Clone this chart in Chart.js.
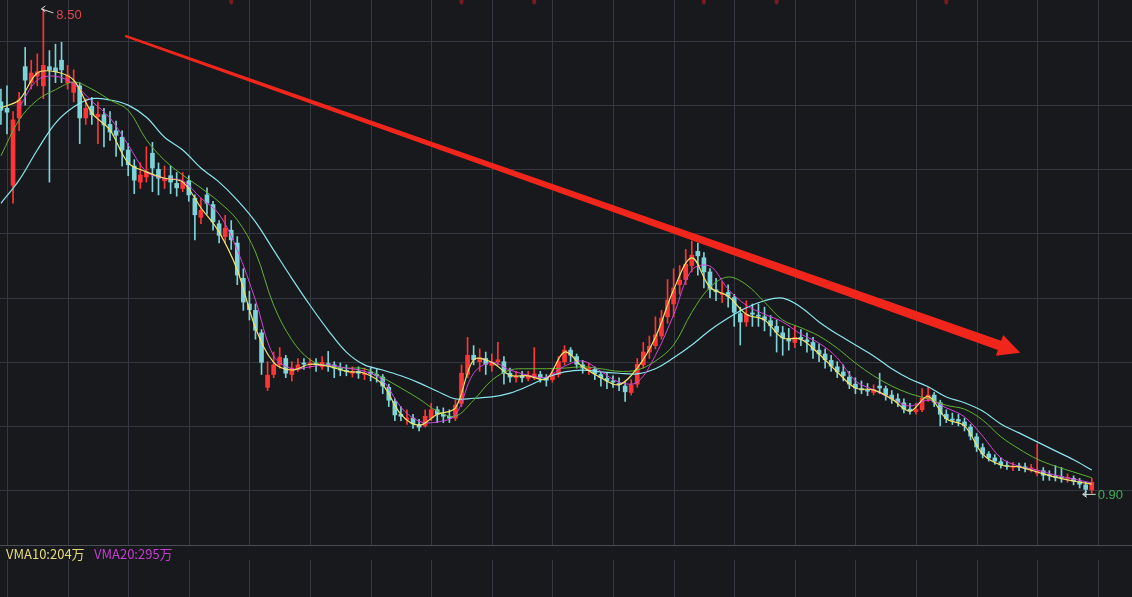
<!DOCTYPE html>
<html>
<head>
<meta charset="utf-8">
<script src="https://cdn.jsdelivr.net/npm/chart.js@4.4.1/dist/chart.umd.min.js"></script>
<style>
html, body { margin: 0; padding: 0; background: #17191d; }
#wrap { position: relative; width: 1132px; height: 597px; overflow: hidden; background: #17191d; }
#price { position: absolute; left: 0; top: 0; }
#vol { position: absolute; left: 0; top: 545px; }
.vma { position: absolute; top: 545px; font: 13px "Noto Sans CJK SC", sans-serif; line-height: 17px; white-space: nowrap; }
</style>
</head>
<body>
<div id="wrap">
  <canvas id="price" width="1132" height="545"></canvas>
  <canvas id="vol" width="1132" height="52"></canvas>
  <div class="vma" id="vma10" style="left:6px;color:#e6dc7a"></div>
  <div class="vma" id="vma20" style="left:94px;color:#c43ed0"></div>
</div>
<script>
// daily candles, first one sits at day -1 on the x axis
const firstDay = -1;
const opens = [7.05,6.95,5.75,6.80,7.60,7.35,7.45,7.30,7.60,7.58,7.70,
  7.35,7.20,7.30,6.80,6.98,6.82,6.85,6.70,6.60,6.50,
  6.30,6.05,5.80,5.88,6.25,6.00,5.82,5.90,5.78,5.70,
  5.82,5.55,5.25,5.60,5.45,5.15,4.95,5.05,4.85,4.30,
  3.90,3.80,3.45,2.60,2.80,2.95,3.05,2.80,2.88,2.98,
  2.95,2.98,2.92,2.97,2.95,2.90,2.86,2.82,2.85,2.80,
  2.84,2.80,2.76,2.60,2.38,2.18,2.10,2.12,2.02,2.00,
  2.12,2.25,2.18,2.15,2.12,2.35,2.80,3.10,3.00,3.05,
  2.94,3.00,3.00,2.82,2.75,2.78,2.74,2.76,2.80,2.75,
  2.72,2.80,3.00,3.18,3.08,2.95,2.88,2.88,2.80,2.74,
  2.70,2.66,2.62,2.52,2.65,2.95,3.15,3.25,3.40,3.70,
  3.90,4.20,4.28,4.50,4.72,4.62,4.40,4.12,4.05,4.08,
  4.00,3.75,3.62,3.76,3.72,3.70,3.64,3.55,3.45,3.36,
  3.30,3.38,3.34,3.30,3.18,3.12,3.02,2.92,2.84,2.76,
  2.65,2.58,2.55,2.52,2.62,2.58,2.48,2.42,2.36,2.26,
  2.22,2.25,2.42,2.48,2.36,2.18,2.10,2.10,2.06,1.98,
  1.83,1.66,1.56,1.50,1.44,1.38,1.35,1.37,1.36,1.33,
  1.26,1.30,1.24,1.22,1.20,1.18,1.18,1.13,1.08,1.00];
const closes = [6.92,6.89,6.77,7.08,7.39,7.50,7.52,7.62,7.55,7.52,7.55,
  7.47,7.36,6.80,6.95,6.85,6.86,6.69,6.58,6.53,6.30,
  6.07,5.83,5.91,5.96,6.02,5.86,5.86,5.80,5.71,5.80,
  5.60,5.29,5.36,5.47,5.18,4.97,5.08,4.90,4.35,3.93,
  3.81,3.49,2.99,2.79,2.95,3.07,2.82,2.90,2.95,2.96,
  2.98,2.95,2.99,2.93,2.90,2.87,2.85,2.84,2.82,2.82,
  2.81,2.78,2.62,2.40,2.17,2.15,2.12,2.03,1.98,2.15,
  2.25,2.18,2.15,2.12,2.32,2.82,3.10,3.03,3.06,2.96,
  2.98,3.03,2.82,2.76,2.76,2.75,2.78,2.81,2.75,2.71,
  2.81,3.00,3.18,3.10,2.96,2.90,2.89,2.81,2.75,2.70,
  2.68,2.64,2.53,2.64,2.96,3.15,3.24,3.42,3.68,3.96,
  4.15,4.27,4.52,4.66,4.65,4.40,4.13,4.09,4.07,4.02,
  3.77,3.62,3.74,3.74,3.71,3.65,3.56,3.46,3.37,3.32,
  3.38,3.35,3.31,3.18,3.12,3.03,2.93,2.84,2.78,2.65,
  2.59,2.56,2.54,2.56,2.59,2.48,2.42,2.37,2.26,2.23,
  2.25,2.43,2.48,2.37,2.18,2.11,2.09,2.07,2.00,1.84,
  1.67,1.56,1.50,1.45,1.39,1.37,1.36,1.36,1.34,1.34,
  1.30,1.23,1.22,1.20,1.19,1.19,1.14,1.09,1.01,1.12];
const highs = [7.25,7.30,6.90,7.20,7.90,7.70,7.80,8.50,7.85,7.95,7.98,
  7.62,7.55,7.35,7.10,7.12,7.05,6.95,6.90,6.75,6.60,
  6.40,6.15,6.10,6.35,6.42,6.10,6.05,6.05,5.95,5.95,
  5.90,5.60,5.55,5.71,5.50,5.20,5.28,5.20,4.95,4.45,
  4.10,3.90,3.50,3.00,3.15,3.22,3.10,3.00,3.05,3.05,
  3.05,3.05,3.08,3.16,3.00,2.98,2.95,2.92,2.92,2.90,
  2.90,2.88,2.80,2.65,2.42,2.30,2.25,2.18,2.10,2.25,
  2.35,2.30,2.28,2.25,2.40,2.95,3.38,3.25,3.20,3.15,
  3.12,3.30,3.08,2.90,2.85,2.85,2.85,3.22,2.85,2.80,
  2.88,3.08,3.25,3.22,3.12,3.02,2.98,2.92,2.85,2.82,
  2.78,2.75,2.68,2.72,3.05,3.30,3.40,3.70,3.80,4.28,
  4.45,4.50,4.75,4.88,4.85,4.70,4.45,4.30,4.25,4.20,
  4.05,3.85,3.95,3.90,3.90,3.85,3.72,3.65,3.55,3.52,
  3.55,3.50,3.45,3.38,3.28,3.20,3.10,3.00,2.95,2.85,
  2.75,2.70,2.66,2.64,2.82,2.62,2.55,2.50,2.42,2.35,
  2.35,2.58,2.60,2.52,2.40,2.25,2.20,2.18,2.12,2.02,
  1.88,1.72,1.60,1.55,1.50,1.45,1.43,1.42,1.42,1.40,
  1.72,1.35,1.30,1.38,1.35,1.25,1.22,1.18,1.12,1.18];
const lows = [6.70,6.55,5.47,6.60,7.00,7.25,7.30,7.10,5.80,7.35,7.35,
  7.25,7.05,6.40,6.70,6.70,6.40,6.35,6.45,6.20,6.05,
  5.90,5.62,5.70,5.80,5.65,5.60,5.70,5.62,5.58,5.65,
  5.50,4.90,5.15,5.30,5.05,4.85,4.85,4.75,4.20,3.80,
  3.65,3.35,2.80,2.55,2.75,2.90,2.75,2.70,2.85,2.88,
  2.90,2.85,2.88,2.85,2.75,2.78,2.78,2.76,2.74,2.72,
  2.70,2.68,2.50,2.30,2.08,2.08,2.02,1.96,1.92,1.98,
  2.08,2.05,2.05,2.05,2.08,2.30,2.75,2.95,2.85,2.80,
  2.85,2.95,2.65,2.68,2.68,2.68,2.70,2.72,2.68,2.62,
  2.68,2.76,2.95,3.00,2.90,2.82,2.80,2.72,2.62,2.58,
  2.60,2.55,2.38,2.48,2.60,2.90,3.05,3.20,3.35,3.60,
  3.70,4.05,4.20,4.40,4.35,4.15,4.00,3.95,3.92,3.85,
  3.55,3.26,3.55,3.55,3.55,3.48,3.40,3.15,3.10,3.18,
  3.22,3.25,3.15,3.05,3.00,2.90,2.85,2.75,2.70,2.58,
  2.50,2.50,2.47,2.48,2.50,2.40,2.35,2.30,2.20,2.18,
  2.18,2.22,2.38,2.30,2.00,2.05,2.02,2.00,1.92,1.78,
  1.60,1.50,1.45,1.40,1.34,1.32,1.30,1.30,1.28,1.28,
  1.22,1.15,1.15,1.14,1.12,1.12,1.08,1.03,0.90,0.95];

// moving averages, one reading every 3 days starting at firstDay
const maStep = 3;
const maYellow = [6.96,7.08,7.50,7.52,7.39,6.88,6.61,6.10,5.96,5.86,
  5.80,5.40,5.02,4.43,3.53,2.99,2.87,2.96,2.93,2.85,
  2.82,2.64,2.18,2.01,2.18,2.28,3.03,2.99,2.79,2.78,
  2.73,3.15,2.92,2.75,2.64,2.90,3.38,4.12,4.62,4.16,
  4.02,3.74,3.65,3.37,3.35,3.12,2.84,2.59,2.56,2.42,
  2.23,2.46,2.11,2.00,1.56,1.39,1.36,1.28,1.20,1.14,1.09];
const maPurple = [null,6.96,7.39,7.45,7.33,7.06,6.80,6.38,5.96,5.86,
  5.82,5.55,5.30,4.74,3.96,3.09,2.89,2.92,2.95,2.90,
  2.85,2.71,2.29,2.07,2.06,2.17,2.82,2.99,2.87,2.79,
  2.76,2.93,3.01,2.85,2.68,2.68,3.10,3.73,4.43,4.49,
  4.13,3.88,3.74,3.62,3.43,3.29,3.06,2.70,2.56,2.42,
  2.31,2.40,2.28,2.14,1.84,1.50,1.37,1.31,1.23,1.17,1.11];
const maGreen = [6.21,6.77,7.08,7.24,7.36,7.25,7.08,6.92,6.46,6.14,
  5.91,5.71,5.49,5.21,4.71,3.88,3.34,3.03,2.93,2.90,
  2.89,2.75,2.59,2.42,2.23,2.15,2.40,2.71,2.87,2.89,
  2.89,2.90,2.92,2.89,2.85,2.87,3.01,3.26,3.77,4.16,
  4.32,4.20,3.93,3.65,3.53,3.40,3.21,2.98,2.78,2.62,
  2.50,2.42,2.32,2.26,2.09,1.83,1.64,1.48,1.37,1.28,1.19];
const maCyan = [5.47,5.83,6.30,6.72,6.97,7.10,7.08,7.00,6.81,6.50,
  6.30,6.02,5.80,5.52,5.18,4.74,4.30,3.88,3.49,3.15,
  2.95,2.87,2.78,2.67,2.54,2.42,2.43,2.45,2.51,2.62,
  2.75,2.84,2.87,2.84,2.82,2.81,2.89,3.06,3.26,3.49,
  3.68,3.84,3.95,3.99,3.85,3.62,3.43,3.26,3.09,2.89,
  2.73,2.61,2.45,2.36,2.23,2.03,1.89,1.75,1.61,1.47,1.31];

const gridPrices = [1, 2, 3, 4, 5, 6, 7, 8];
const gridDays = [0, 10, 20, 30, 40, 50, 60, 70, 80, 90, 100, 110, 120, 130, 140, 150, 160, 170, 180];
const eventDays = [37, 75, 87, 115, 127, 155];
const trendFrom = [19.5, 8.08];
const trendTo = [167.2, 3.14];
const vmaTexts = ['VMA10:204万', 'VMA20:295万'];

document.getElementById('vma10').textContent = vmaTexts[0];
document.getElementById('vma20').textContent = vmaTexts[1];

const xMin = -1.155, xMax = 185.64;
const upColor = '#ff3434';
const downColor = '#7dd3d7';
const gridColor = '#353840';

let days = closes.map((c, i) => firstDay + i);
let wickData = days.map((d, i) => ({x: d, y: [lows[i], highs[i]]}));
let bodyData = days.map((d, i) => ({x: d, y: [opens[i], closes[i]]}));
let candleColor = ctx => closes[ctx.dataIndex] >= opens[ctx.dataIndex] ? upColor : downColor;

function maPoints(arr) {
    return arr.map((v, k) => ({x: firstDay + k * maStep, y: v}));
}

function maLine(arr, color, order, width) {
    return {
        type: 'line',
        data: maPoints(arr),
        borderColor: color,
        borderWidth: width,
        pointRadius: 0,
        tension: 0.35,
        order: order
    };
}

const gridPlugin = {
    id: 'grid',
    beforeDatasetsDraw(chart) {
        let {ctx, chartArea, scales: {x, y}} = chart;
        ctx.save();
        ctx.strokeStyle = gridColor;
        ctx.lineWidth = 1;
        ctx.beginPath();
        gridPrices.forEach(p => {
            let py = Math.round(y.getPixelForValue(p)) + 0.5;
            ctx.moveTo(chartArea.left, py);
            ctx.lineTo(chartArea.right, py);
        });
        gridDays.forEach(d => {
            let px = Math.round(x.getPixelForValue(d)) + 0.5;
            ctx.moveTo(px, chartArea.top);
            ctx.lineTo(px, chartArea.bottom);
        });
        ctx.stroke();
        // event flags along the top edge
        ctx.fillStyle = '#7a1a22';
        eventDays.forEach(d => {
            let px = x.getPixelForValue(d);
            ctx.beginPath();
            ctx.ellipse(px, 1, 2, 3.5, 0, 0, Math.PI * 2);
            ctx.fill();
        });
        ctx.restore();
    }
};

const markPlugin = {
    id: 'marks',
    afterDatasetsDraw(chart) {
        let {ctx, scales: {x, y}} = chart;
        ctx.save();

        // highest / lowest price labels
        let hi = highs.indexOf(Math.max(...highs));
        let lo = lows.indexOf(Math.min(...lows));
        ctx.font = '13px "Liberation Sans", sans-serif';
        ctx.textBaseline = 'middle';
        ctx.lineWidth = 1;
        ctx.strokeStyle = '#d8d8d8';

        let hx = x.getPixelForValue(days[hi]) - 2, hy = y.getPixelForValue(highs[hi]);
        ctx.beginPath();
        ctx.moveTo(hx + 4, hy - 3); ctx.lineTo(hx, hy); ctx.lineTo(hx + 4, hy + 3);
        ctx.moveTo(hx, hy); ctx.lineTo(hx + 12, hy + 4);
        ctx.stroke();
        ctx.fillStyle = '#e2454f';
        ctx.fillText(highs[hi].toFixed(2), hx + 15, hy + 7);

        let lx = x.getPixelForValue(days[lo]) - 3, ly = y.getPixelForValue(lows[lo]) - 2;
        ctx.beginPath();
        ctx.moveTo(lx + 4, ly - 3); ctx.lineTo(lx, ly); ctx.lineTo(lx + 4, ly + 3);
        ctx.moveTo(lx, ly); ctx.lineTo(lx + 13, ly);
        ctx.stroke();
        ctx.fillStyle = '#3fae5a';
        ctx.fillText(lows[lo].toFixed(2), lx + 15, ly + 1);

        // hand drawn trend arrow
        let x0 = x.getPixelForValue(trendFrom[0]), y0 = y.getPixelForValue(trendFrom[1]);
        let x1 = x.getPixelForValue(trendTo[0]), y1 = y.getPixelForValue(trendTo[1]);
        let len = Math.hypot(x1 - x0, y1 - y0);
        let ux = (x1 - x0) / len, uy = (y1 - y0) / len;
        let nx = -uy, ny = ux;
        let head = 22, bx = x1 - ux * head, by = y1 - uy * head;
        ctx.fillStyle = '#f0261d';
        ctx.beginPath();
        ctx.moveTo(x0 + nx * 1.3, y0 + ny * 1.3);
        ctx.lineTo(bx + nx * 5, by + ny * 5);
        ctx.lineTo(bx + nx * 11, by + ny * 11);
        ctx.lineTo(x1, y1);
        ctx.lineTo(bx - nx * 11, by - ny * 11);
        ctx.lineTo(bx - nx * 5, by - ny * 5);
        ctx.lineTo(x0 - nx * 1.3, y0 - ny * 1.3);
        ctx.closePath();
        ctx.fill();
        ctx.restore();
    }
};

new Chart(document.getElementById('price'), {
    type: 'bar',
    data: {
        datasets: [
            maLine(maYellow, '#f2e46a', 1, 1.2),
            maLine(maPurple, '#d444d8', 2, 1),
            maLine(maGreen, '#62b236', 3, 1),
            maLine(maCyan, '#8be6ee', 4, 1.2),
            {
                data: bodyData,
                backgroundColor: candleColor,
                barThickness: 4,
                minBarLength: 1,
                grouped: false,
                order: 5
            },
            {
                data: wickData,
                backgroundColor: candleColor,
                barThickness: 1,
                grouped: false,
                order: 6
            }
        ]
    },
    options: {
        responsive: false,
        animation: false,
        events: [],
        layout: {padding: 0},
        plugins: {legend: {display: false}, tooltip: {enabled: false}},
        scales: {
            x: {type: 'linear', offset: false, min: xMin, max: xMax, display: false},
            y: {min: 0.142, max: 8.639, display: false}
        }
    },
    plugins: [gridPlugin, markPlugin]
});

// empty volume pane underneath, only its frame and grid show
new Chart(document.getElementById('vol'), {
    type: 'bar',
    data: {datasets: []},
    options: {
        responsive: false,
        animation: false,
        events: [],
        layout: {padding: 0},
        plugins: {legend: {display: false}, tooltip: {enabled: false}},
        scales: {
            x: {type: 'linear', offset: false, min: xMin, max: xMax, display: false},
            y: {min: 0, max: 1, display: false}
        }
    },
    plugins: [{
        id: 'volGrid',
        beforeDraw(chart) {
            let {ctx, scales: {x}} = chart;
            ctx.save();
            ctx.strokeStyle = '#4a4d54';
            ctx.beginPath();
            ctx.moveTo(0, 0.5);
            ctx.lineTo(chart.width, 0.5);
            ctx.stroke();
            ctx.strokeStyle = gridColor;
            ctx.beginPath();
            gridDays.forEach(d => {
                let px = Math.round(x.getPixelForValue(d)) + 0.5;
                ctx.moveTo(px, 15);
                ctx.lineTo(px, chart.height);
            });
            ctx.stroke();
            ctx.restore();
        }
    }]
});
</script>
</body>
</html>
